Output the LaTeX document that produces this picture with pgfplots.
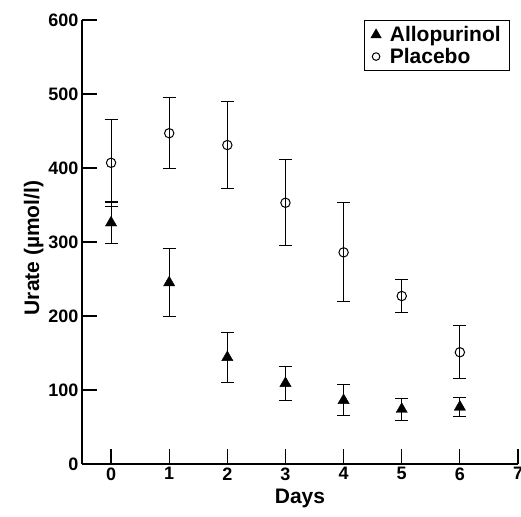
\documentclass[border=0pt]{standalone}
\usepackage{pgfplots}
\pgfplotsset{compat=1.18}
\usepackage{fontspec}
\setmainfont{Liberation Sans}
\begin{document}
\begin{tikzpicture}
\begin{axis}[
 scale only axis, width=436pt, height=444pt,
 xmin=-0.5, xmax=7, ymin=0, ymax=600,
 axis lines=left, axis line style={-, line width=1.2pt},
 xtick={0,...,7}, ytick={0,100,...,600},
 tick align=inside, major tick length=15pt,
 tick style={line width=1.2pt, black},
 ticklabel style={font=\fontsize{18}{20}\selectfont\bfseries},
 /pgf/number format/assume math mode=true,
 xlabel={Days}, ylabel={Urate (µmol/l)},
 label style={font=\fontsize{21}{24}\selectfont\bfseries},
 xlabel style={yshift=-2pt},
 ylabel style={yshift=-2pt, xshift=-6pt},
 legend style={at={(rel axis cs:0.982,1)}, anchor=north east, draw=black, line width=1pt,
   font=\fontsize{21}{23}\selectfont\bfseries, row sep=1pt, inner xsep=7pt, inner ysep=4pt,
   /tikz/every odd column/.append style={column sep=7pt}},
 legend cell align=left,
 legend image code/.code={\draw[#1] plot coordinates {(0.4cm,0cm)};},
 clip=false,
]
\addlegendimage{only marks, mark=triangle*, mark size=5.5pt, black}
\addlegendentry{Allopurinol}
\addlegendimage{only marks, mark=o, mark size=3.8pt, black, mark options={line width=1pt}}
\addlegendentry{Placebo}
\addplot[forget plot, only marks, mark=triangle*, mark size=6.5pt, black,
  error bars/.cd, y dir=both, y explicit,
  error bar style={line width=1.1pt, black},
  error mark options={rotate=90, mark size=6.5pt, line width=1.1pt}]
 coordinates {
 (0,326) +- (0,28)
 (1,245) +- (0,46)
 (2,144) +- (0,34)
 (3,109) +- (0,23)
 (4,86) +- (0,21)
 (5,74) +- (0,15)
 (6,77) +- (0,13)
 };
\addplot[forget plot, only marks, mark=o, mark size=4.7pt, black, mark options={fill=white, line width=1pt},
  error bars/.cd, y dir=both, y explicit,
  error bar style={line width=1.1pt, black},
  error mark options={rotate=90, mark size=6.5pt, line width=1.1pt}]
 coordinates {
 (0,407) +- (0,59)
 (1,447) +- (0,48)
 (2,431) +- (0,59)
 (3,353) +- (0,58)
 (4,286) +- (0,67)
 (5,227) +- (0,22)
 (6,151) +- (0,36)
 };
\end{axis}
\pgfresetboundingbox
\path[use as bounding box] ([shift={(-82pt,-53pt)}]current axis.south west) rectangle ([shift={(3pt,20pt)}]current axis.north east);
\end{tikzpicture}
\end{document}
